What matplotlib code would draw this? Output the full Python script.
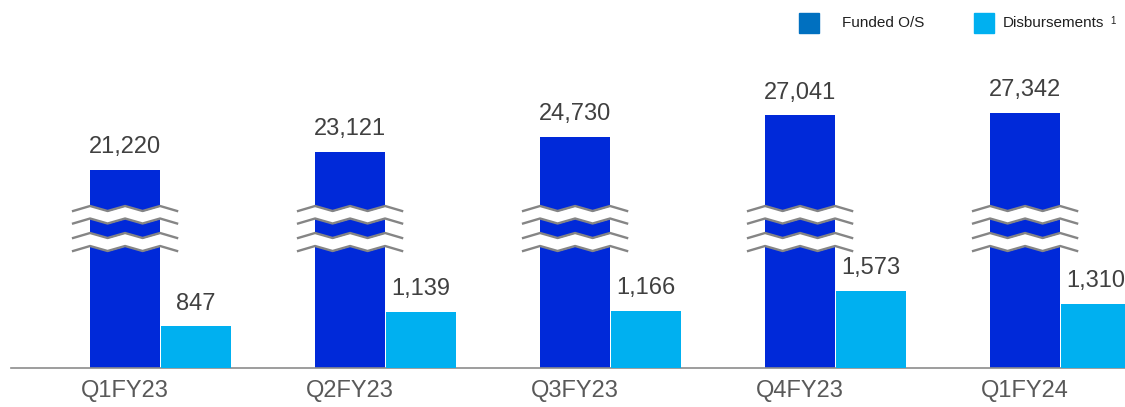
import numpy as np
import matplotlib.pyplot as plt
from matplotlib.patches import Rectangle
from matplotlib.transforms import blended_transform_factory

plt.rcParams['font.family'] = ['Liberation Sans', 'DejaVu Sans']

# data
quarters = ['Q1FY23', 'Q2FY23', 'Q3FY23', 'Q4FY23', 'Q1FY24']
funded = [21220, 23121, 24730, 27041, 27342]
disbursements = [847, 1139, 1166, 1573, 1310]

c_funded = '#0029D9'
c_disb = '#00B0F0'
c_leg_funded = '#0070C0'
c_val = '#404040'
c_cat = '#595959'

fig = plt.figure(figsize=(11.25, 4.07), dpi=100)
ax = fig.add_axes([11 / 1125, 39 / 407, 1 - 11 / 1125, 368 / 407])
ax2 = ax.twinx()

x = np.arange(len(quarters))
w = 0.311
off = 0.157

ax.bar(x - off, funded, w, color=c_funded, zorder=2)
ax2.bar(x + off, disbursements, w, color=c_disb, zorder=2)

ax.set_ylim(0, 39400)
ax2.set_ylim(0, 7510)
ax.set_xlim(-0.664, 4.287)

for xi, v in zip(x, funded):
    ax.annotate(f'{v:,}', (xi - off, v), xytext=(0, 8.5), textcoords='offset points',
                ha='center', va='bottom', fontsize=17, color=c_val)
for xi, v in zip(x, disbursements):
    ax2.annotate(f'{v:,}', (xi + off, v), xytext=(0, 8.5), textcoords='offset points',
                 ha='center', va='bottom', fontsize=17, color=c_val)

# axis break marks on the funded bars
tr = blended_transform_factory(ax.transData, ax.transAxes)
px = 1 / 225  # one pixel in x data units
py = 1 / 368  # one pixel in axes fraction
zx = np.array([-52, -35, -17.5, 0, 17.5, 35, 52]) * px
zy = np.array([0, 5, 0, 5, 0, 5, 0]) * py
base = (368 - 211) * py
for xi in x:
    xs = xi - off + zx
    for top, bot in [(0, 12.5), (27, 40)]:
        y1 = base + zy - top * py
        y2 = base + zy - bot * py
        ax2.fill_between(xs, y2, y1, color='white', transform=tr, zorder=5, lw=0)
        ax2.plot(xs, y1, color='#858585', lw=1.7, transform=tr, zorder=6)
        ax2.plot(xs, y2, color='#858585', lw=1.7, transform=tr, zorder=6)

ax.set_xticks(x - off)
ax.set_xticklabels(quarters, fontsize=17, color=c_cat)
ax.tick_params(axis='x', length=0, pad=9)
ax.set_yticks([])
ax2.set_yticks([])
for a in (ax, ax2):
    for s in ('top', 'right', 'left'):
        a.spines[s].set_visible(False)
    a.spines['bottom'].set_color('#8c8c8c')
    a.spines['bottom'].set_linewidth(1.2)
ax2.spines['bottom'].set_visible(False)

# legend
fig.add_artist(Rectangle((799 / 1125, 1 - 33 / 407), 20 / 1125, 20 / 407,
                         transform=fig.transFigure, color=c_leg_funded))
fig.text(842 / 1125, 1 - 23 / 407, 'Funded O/S', fontsize=11, color='#202020', va='center')
fig.add_artist(Rectangle((974 / 1125, 1 - 33 / 407), 20 / 1125, 20 / 407,
                         transform=fig.transFigure, color=c_disb))
fig.text(1003 / 1125, 1 - 23 / 407, 'Disbursements', fontsize=11, color='#202020', va='center')
fig.text(1110 / 1125, 1 - 21.5 / 407, '1', fontsize=7, color='#202020', va='center')

fig.savefig('out.png', dpi=100)
